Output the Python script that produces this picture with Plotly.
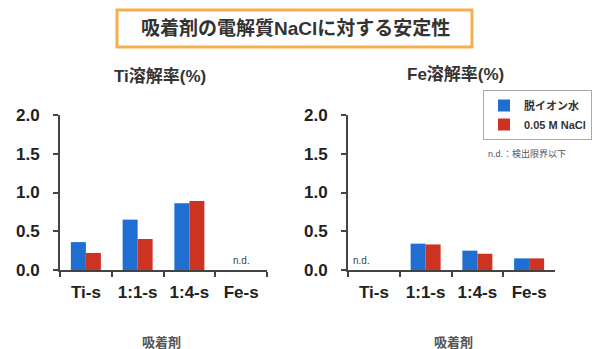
import plotly.graph_objects as go

categories = ["Ti-s", "1:1-s", "1:4-s", "Fe-s"]
series_names = ["脱イオン水", "0.05 M NaCl"]
ti_water = [0.36, 0.65, 0.86, None]
ti_nacl = [0.22, 0.40, 0.89, None]
fe_water = [None, 0.34, 0.25, 0.15]
fe_nacl = [None, 0.33, 0.21, 0.15]
y_ticks = [0.0, 0.5, 1.0, 1.5, 2.0]
y_tick_labels = ["0.0", "0.5", "1.0", "1.5", "2.0"]

BLUE = "#1f6fd2"
RED = "#cc3322"
FONT = "Liberation Sans, Noto Sans CJK JP, sans-serif"

fig = go.Figure()
fig.add_trace(go.Bar(x=categories, y=ti_water, name=series_names[0], marker_color=BLUE,
                     xaxis="x", yaxis="y", legendgroup="a"))
fig.add_trace(go.Bar(x=categories, y=ti_nacl, name=series_names[1], marker_color=RED,
                     xaxis="x", yaxis="y", legendgroup="b"))
fig.add_trace(go.Bar(x=categories, y=fe_water, name=series_names[0], marker_color=BLUE,
                     xaxis="x2", yaxis="y2", legendgroup="a", showlegend=False))
fig.add_trace(go.Bar(x=categories, y=fe_nacl, name=series_names[1], marker_color=RED,
                     xaxis="x2", yaxis="y2", legendgroup="b", showlegend=False))

W, H = 599, 349
def px(x):
    return x / W
def py(y):
    return 1 - y / H

axis_common = dict(showline=True, linecolor="#444", linewidth=2, ticks="outside",
                   ticklen=5, tickwidth=2, tickcolor="#444", showgrid=False, zeroline=False,
                   automargin=False)
xcommon = dict(axis_common, type="category", categoryorder="array", categoryarray=categories,
               range=[-0.5, 3.5], tickson="boundaries", ticklabelstandoff=6,
               tickfont=dict(family=FONT, size=17, color="#222", weight="bold"))
ycommon = dict(axis_common, range=[0, 2.0], tickvals=y_ticks, ticktext=y_tick_labels,
               ticklabelstandoff=10,
               tickfont=dict(family=FONT, size=17, color="#222", weight="bold"),
               domain=[1 - 270 / H, 1 - 115 / H])

fig.update_layout(
    template="none",
    width=W, height=H, margin=dict(l=0, r=0, t=0, b=0, pad=0), autosize=False,
    paper_bgcolor="white", plot_bgcolor="white",
    barmode="group", bargap=0.42, bargroupgap=0,
    font=dict(family=FONT, color="#222"),
    xaxis=dict(xcommon, domain=[px(60), px(267)], anchor="y"),
    yaxis=dict(ycommon, anchor="x"),
    xaxis2=dict(xcommon, domain=[px(348), px(555)], anchor="y2"),
    yaxis2=dict(ycommon, anchor="x2"),
    legend=dict(x=px(483), y=py(90), xanchor="left", yanchor="top",
                bordercolor="#aaa", borderwidth=1, bgcolor="white",
                font=dict(family=FONT, size=11, color="#333", weight="bold"),
                itemwidth=30, tracegroupgap=0),
    showlegend=True,
)

# Title box
fig.add_shape(type="rect", xref="paper", yref="paper",
              x0=px(117), x1=px(472), y0=py(47), y1=py(10),
              line=dict(color="#f4b050", width=3), fillcolor="white", layer="below")
fig.add_annotation(text="吸着剤の電解質NaClに対する安定性", xref="paper", yref="paper",
                   x=px(295), y=py(28), xanchor="center", yanchor="middle", showarrow=False,
                   font=dict(family=FONT, size=19, color="#333", weight="bold"))

# Panel titles
fig.add_annotation(text="Ti溶解率(%)", xref="paper", yref="paper", x=px(160), y=py(76),
                   xanchor="center", yanchor="middle",
                   showarrow=False, font=dict(family=FONT, size=17, color="#333", weight="bold"))
fig.add_annotation(text="Fe溶解率(%)", xref="paper", yref="paper", x=px(455), y=py(74),
                   xanchor="center", yanchor="middle",
                   showarrow=False, font=dict(family=FONT, size=17, color="#333", weight="bold"))

# n.d. labels
fig.add_annotation(text="n.d.", xref="x", yref="y", x="Fe-s", y=0.02, yanchor="bottom",
                   xanchor="center",
                   showarrow=False, font=dict(family=FONT, size=10, color="#444"))
fig.add_annotation(text="n.d.", xref="x2", yref="y2", x="Ti-s", y=0.02, yanchor="bottom",
                   xanchor="center",
                   xshift=-12, showarrow=False, font=dict(family=FONT, size=10, color="#444"))
fig.add_annotation(text="n.d.：検出限界以下", xref="paper", yref="paper", x=px(486), y=py(153),
                   xanchor="left", yanchor="middle", showarrow=False,
                   font=dict(family=FONT, size=9, color="#555"))

# x-axis titles
fig.add_annotation(text="吸着剤", xref="paper", yref="paper", x=px(162), y=py(342),
                   xanchor="center", yanchor="middle",
                   showarrow=False, font=dict(family=FONT, size=13, color="#555", weight="bold"))
fig.add_annotation(text="吸着剤", xref="paper", yref="paper", x=px(453), y=py(342),
                   xanchor="center", yanchor="middle",
                   showarrow=False, font=dict(family=FONT, size=13, color="#555", weight="bold"))

fig.write_html("out.html")
